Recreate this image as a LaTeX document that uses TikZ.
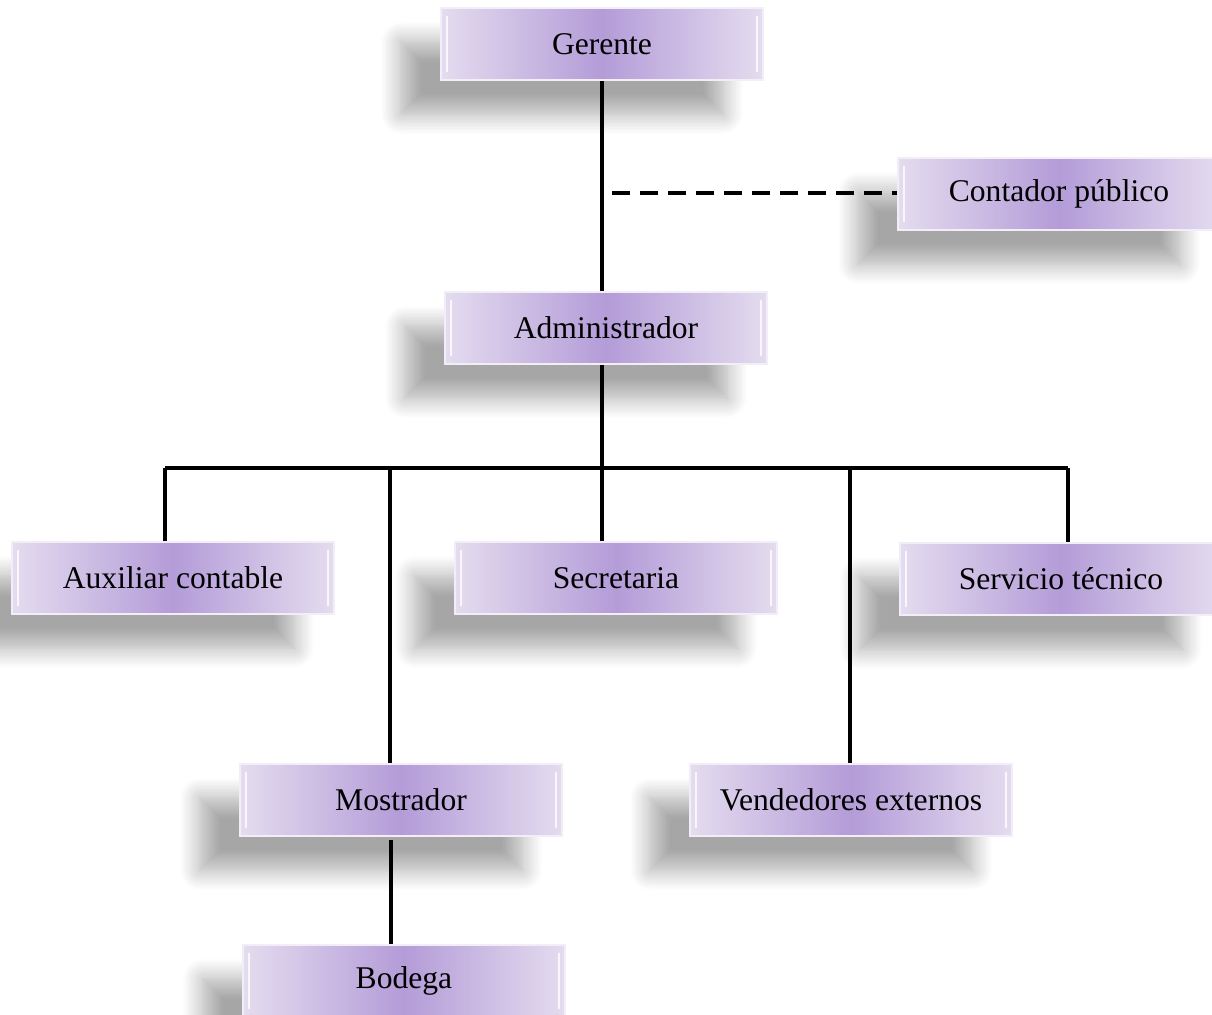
\documentclass[tikz,border=0pt]{standalone}
\usepackage{fontspec}
\setmainfont{Liberation Serif}
\usetikzlibrary{shadows.blur}
\definecolor{boxdark}{HTML}{B49CD8}
\definecolor{boxlight}{HTML}{E4DCEF}
\tikzset{
  puesto/.style={minimum width=161pt,minimum height=36pt,inner sep=0pt,
    left color=boxlight,right color=boxlight,middle color=boxdark,
    draw=boxlight!50!white,line width=.8pt,
    blur shadow={shadow xshift=-20pt,shadow yshift=-17pt,shadow blur radius=10pt,shadow blur steps=12,shadow opacity=35},
    font=\fontsize{15.8}{18}\selectfont,
    path picture={
      \draw[white,opacity=.8,line width=1.2pt]
        ([xshift=3pt,yshift=-4pt]path picture bounding box.north west) -- ([xshift=3pt,yshift=4pt]path picture bounding box.south west)
        ([xshift=-3pt,yshift=-4pt]path picture bounding box.north east) -- ([xshift=-3pt,yshift=4pt]path picture bounding box.south east);}},
  linea/.style={line width=2pt},
  punteada/.style={line width=2pt,dash pattern=on 9pt off 5pt}
}
\begin{document}
\begin{tikzpicture}[x=.5pt,y=-.5pt]
\useasboundingbox (0,0) rectangle (1212,1014);
% puestos
\node[puesto] (gerente) at (602,44) {Gerente};
\node[puesto] (contador) at (1059,194) {Contador público};
\node[puesto] (admin) at (606,328) {Administrador};
\node[puesto] (auxiliar) at (173,578) {Auxiliar contable};
\node[puesto] (secretaria) at (616,578) {Secretaria};
\node[puesto] (servicio) at (1061,579) {Servicio técnico};
\node[puesto] (mostrador) at (401,800) {Mostrador};
\node[puesto] (vendedores) at (851,800) {Vendedores externos};
\node[puesto] (bodega) at (404,981) {Bodega};
% lineas
\coordinate (rama) at (612,193);
\coordinate (barra) at (602,468);
\coordinate (barraW) at (165,468);
\coordinate (barraE) at (1068,468);
\coordinate (bajada) at (391,840);
\draw[linea] (gerente.south) -- (gerente.south |- admin.north);
\draw[punteada] (rama) -- (rama -| contador.west);
\draw[linea] (barra |- admin.south) -- (barra);
\draw[linea] (barraW) -- (barraE);
\foreach \x/\n in {165/auxiliar,390/mostrador,602/secretaria,850/vendedores,1068/servicio}
  \draw[linea] (\x,468) coordinate (d) -- (d |- \n.north);
\draw[linea] (bajada) -- (bajada |- bodega.north);
\end{tikzpicture}
\end{document}
